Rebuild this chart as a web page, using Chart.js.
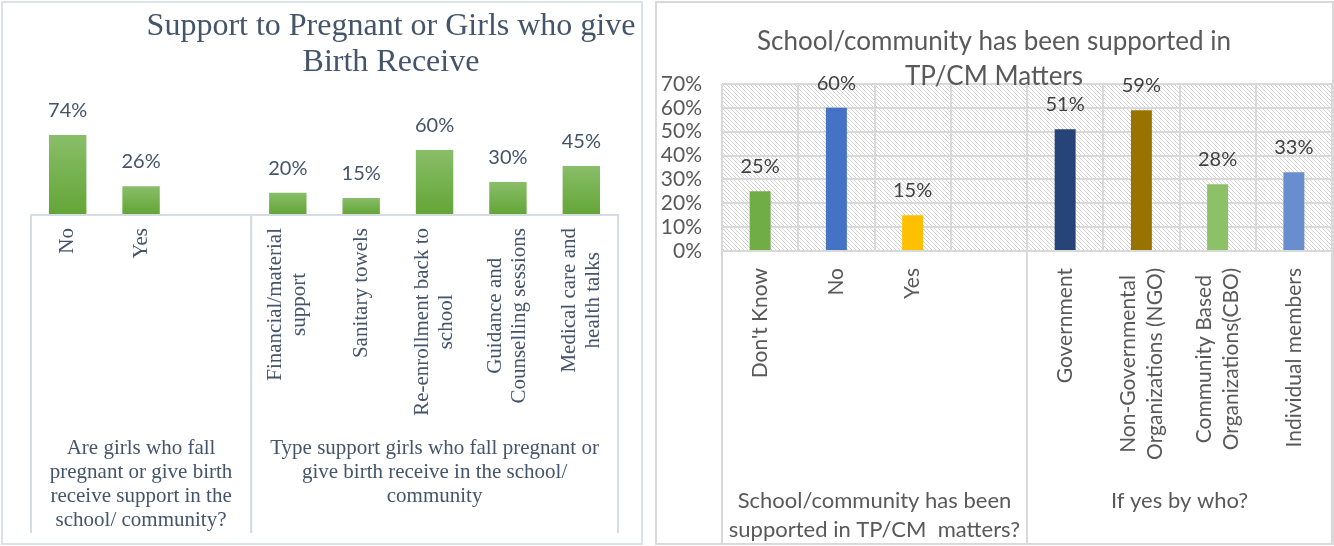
<!DOCTYPE html>
<html>
<head>
<meta charset="UTF-8" />
<title>Support to pregnant girls / TP-CM support</title>
<style>
  html, body { margin: 0; padding: 0; background: #fff; }
  .panel { position: absolute; top: 1px; height: 544px; box-sizing: border-box; border: 2px solid #DDE2E8; }
  #leftPanel { left: 1px; width: 642px; }
  #rightPanel { left: 655px; width: 679px; border-color: #D9D9D9; }
  canvas { display: block; }
</style>
</head>
<body>
<div class="panel" id="leftPanel"><canvas id="supportChart" width="638" height="540"></canvas></div>
<div class="panel" id="rightPanel"><canvas id="tpcmChart" width="675" height="540"></canvas></div>

<script src="https://cdn.jsdelivr.net/npm/chart.js"></script>
<script>
// ---- left chart data ----
const supportTitle = ['Support to Pregnant or Girls who give', 'Birth Receive'];
const supportCategories = [
  ['No'], ['Yes'], [],
  ['Financial/material', 'support'], ['Sanitary towels'], ['Re-enrollment back to', 'school'],
  ['Guidance and', 'Counselling sessions'], ['Medical care and', 'health talks']
];
const supportValues = [74, 26, null, 20, 15, 60, 30, 45];
const supportGroups = [
  { first: 0, last: 2, text: ['Are girls who fall', 'pregnant or give birth', 'receive support in the', 'school/ community?'] },
  { first: 3, last: 7, text: ['Type support girls who fall pregnant or', 'give birth receive in the school/', 'community'] }
];

// ---- right chart data ----
const tpcmTitle = ['School/community has been supported in', 'TP/CM Matters'];
const tpcmCategories = [
  ["Don't Know"], ['No'], ['Yes'], [],
  ['Government'], ['Non-Governmental', 'Organizations (NGO)'], ['Community Based', 'Organizations(CBO)'], ['Individual members']
];
const tpcmValues = [25, 60, 15, null, 51, 59, 28, 33];
const tpcmColors = ['#70AD47', '#4472C4', '#FFC000', '#FFFFFF', '#264478', '#997300', '#8CC168', '#698ED0'];
const tpcmTicks = { min: 0, max: 70, step: 10 };
const tpcmGroups = [
  { first: 0, last: 3, text: ['School/community has been', 'supported in TP/CM  matters?'] },
  { first: 4, last: 7, text: ['If yes by who?'] }
];

const SERIF = '"Liberation Serif", "Times New Roman", serif';
const SANS = 'Lato, "Open Sans", sans-serif';

// diagonal hatch used behind the right plot
const hatchTile = (() => {
  const c = document.createElement('canvas');
  c.width = c.height = 4;
  const t = c.getContext('2d');
  t.fillStyle = '#FFFFFF';
  t.fillRect(0, 0, 4, 4);
  t.fillStyle = '#D3D3D3';
  for (let i = 0; i < 4; i++) t.fillRect(i, i, 1, 1);
  return c;
})();

function drawTitle(ctx, lines, cx, y0, pitch, font, color) {
  ctx.save();
  ctx.font = font;
  ctx.fillStyle = color;
  ctx.textAlign = 'center';
  ctx.textBaseline = 'middle';
  lines.forEach((l, j) => ctx.fillText(l, cx, y0 + j * pitch));
  ctx.restore();
}

function drawValueLabels(chart, font, color) {
  const ctx = chart.ctx;
  const meta = chart.getDatasetMeta(0);
  ctx.save();
  ctx.font = font;
  ctx.fillStyle = color;
  ctx.textAlign = 'center';
  ctx.textBaseline = 'middle';
  meta.data.forEach((bar, i) => {
    const v = chart.data.datasets[0].data[i];
    if (v == null) return;
    ctx.fillText(v + '%', bar.x, bar.y - 24.5);
  });
  ctx.restore();
}

// rotated category labels, lines centred inside a block that ends near the axis
function drawCategoryLabels(chart, cfg) {
  const { ctx, chartArea: area } = chart;
  const xs = chart.scales.x;
  ctx.save();
  ctx.font = cfg.font;
  ctx.fillStyle = cfg.color;
  ctx.textAlign = 'center';
  ctx.textBaseline = 'middle';
  chart.data.labels.forEach((lines, i) => {
    if (!lines.length) return;
    const w = Math.max(...lines.map(l => ctx.measureText(l).width));
    ctx.save();
    ctx.translate(xs.getPixelForValue(i), area.bottom + cfg.gap);
    ctx.rotate(-Math.PI / 2);
    lines.forEach((l, j) => ctx.fillText(l, -w / 2, (j - (lines.length - 1) / 2) * cfg.pitch));
    ctx.restore();
  });
  ctx.restore();
}

// second level of the category axis: separators and group names
function drawGroups(chart, groups, cfg) {
  const { ctx, chartArea: area } = chart;
  const xs = chart.scales.x;
  const half = (xs.getPixelForValue(1) - xs.getPixelForValue(0)) / 2;
  ctx.save();
  ctx.strokeStyle = cfg.lineColor;
  ctx.lineWidth = cfg.lineWidth;
  ctx.font = cfg.font;
  ctx.fillStyle = cfg.color;
  ctx.textAlign = 'center';
  ctx.textBaseline = 'middle';
  groups.forEach(g => {
    const left = xs.getPixelForValue(g.first) - half;
    const right = xs.getPixelForValue(g.last) + half;
    ctx.beginPath();
    ctx.moveTo(left, area.bottom);
    ctx.lineTo(left, cfg.bottom);
    ctx.moveTo(right, area.bottom);
    ctx.lineTo(right, cfg.bottom);
    ctx.stroke();
    g.text.forEach((l, j) => ctx.fillText(l, (left + right) / 2, cfg.top + j * cfg.pitch));
  });
  ctx.restore();
}

// ---- left chart ----
new Chart(document.getElementById('supportChart'), {
  type: 'bar',
  data: {
    labels: supportCategories,
    datasets: [{
      data: supportValues,
      barPercentage: 0.51,
      categoryPercentage: 1,
      borderWidth: 0,
      backgroundColor(c) {
        const chart = c.chart;
        if (!chart.chartArea || c.raw == null) return '#70AD47';
        const y = chart.scales.y;
        const g = chart.ctx.createLinearGradient(0, y.getPixelForValue(c.raw), 0, y.getPixelForValue(0));
        g.addColorStop(0, '#89BE69');
        g.addColorStop(1, '#64A537');
        return g;
      }
    }]
  },
  options: {
    responsive: false,
    animation: false,
    layout: { padding: { left: 28, right: 23, top: 104.3, bottom: 329 } },
    plugins: { legend: { display: false }, tooltip: { enabled: false } },
    scales: {
      x: { display: false },
      y: { display: false, min: 0, max: 100 }
    }
  },
  plugins: [{
    id: 'supportDecor',
    afterDraw(chart) {
      const { ctx, chartArea: area } = chart;
      ctx.save();
      ctx.strokeStyle = '#D6DCE4';
      ctx.lineWidth = 2;
      ctx.beginPath();
      ctx.moveTo(area.left, area.bottom + 1);
      ctx.lineTo(area.right, area.bottom + 1);
      ctx.stroke();
      ctx.restore();
      drawGroups(chart, supportGroups, {
        lineColor: '#D6DCE4', lineWidth: 2, bottom: 530,
        font: '21px ' + SERIF, color: '#44546A', top: 445, pitch: 24
      });
      drawCategoryLabels(chart, { font: '21px ' + SERIF, color: '#44546A', gap: 14, pitch: 24 });
      drawValueLabels(chart, '20px ' + SANS, '#44546A');
      drawTitle(ctx, supportTitle, 388, 24, 36, '32px ' + SERIF, '#44546A');
    }
  }]
});

// ---- right chart ----
new Chart(document.getElementById('tpcmChart'), {
  type: 'bar',
  data: {
    labels: tpcmCategories,
    datasets: [{
      data: tpcmValues,
      backgroundColor: tpcmColors,
      barPercentage: 0.275,
      categoryPercentage: 1,
      borderWidth: 0
    }]
  },
  options: {
    responsive: false,
    animation: false,
    layout: { padding: { left: 0, right: 0, top: 81, bottom: 292 } },
    plugins: { legend: { display: false }, tooltip: { enabled: false } },
    scales: {
      x: {
        ticks: { display: false },
        grid: { color: '#D9D9D9', lineWidth: 2, drawTicks: false },
        border: { color: '#D9D9D9', width: 2 }
      },
      y: {
        min: tpcmTicks.min,
        max: tpcmTicks.max,
        ticks: {
          stepSize: tpcmTicks.step,
          autoSkip: false,
          padding: 20,
          color: '#595959',
          font: { family: SANS, size: 21 },
          callback: v => v + '%'
        },
        grid: { color: '#D9D9D9', lineWidth: 2, drawTicks: false },
        border: { display: false },
        afterFit(scale) { scale.width = 65; }
      }
    }
  },
  plugins: [{
    id: 'tpcmDecor',
    beforeDraw(chart) {
      const { ctx, chartArea: area } = chart;
      ctx.save();
      ctx.fillStyle = ctx.createPattern(hatchTile, 'repeat');
      ctx.fillRect(area.left, area.top, area.right - area.left, area.bottom - area.top);
      ctx.restore();
    },
    afterDraw(chart) {
      drawGroups(chart, tpcmGroups, {
        lineColor: '#D9D9D9', lineWidth: 2, bottom: 540,
        font: '22px ' + SANS, color: '#595959', top: 498, pitch: 29
      });
      drawCategoryLabels(chart, { font: '21px ' + SANS, color: '#595959', gap: 17, pitch: 27 });
      drawValueLabels(chart, '20px ' + SANS, '#404040');
      drawTitle(chart.ctx, tpcmTitle, 337, 39, 35, '26px ' + SANS, '#595959');
    }
  }]
});
</script>
</body>
</html>
